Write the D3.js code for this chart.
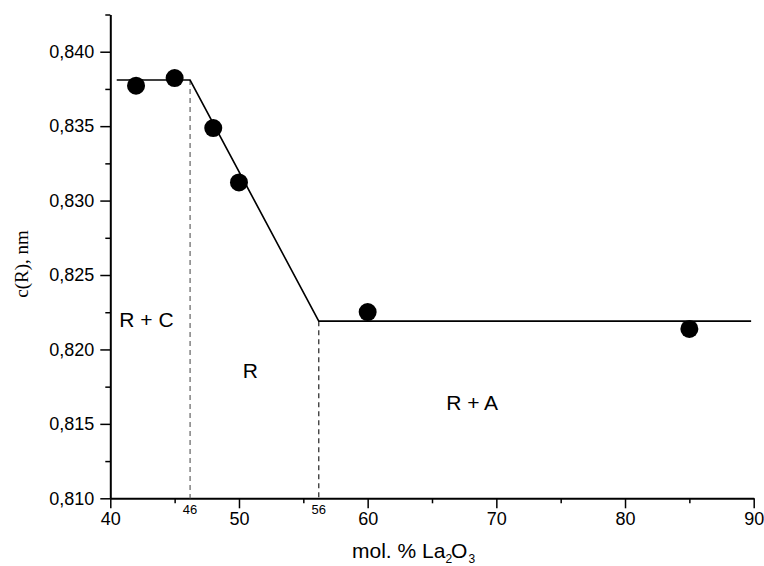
<!DOCTYPE html>
<html>
<head>
<meta charset="utf-8">
<script src="https://cdn.jsdelivr.net/npm/d3@7"></script>
<style>
    body { margin: 0; background: #fff; }
    svg { display: block; }
    .tick text { font-family: "Liberation Sans", Arial, sans-serif; }
</style>
</head>
<body>
<svg id="chart" width="764" height="566"></svg>
<script>
// measured points
const molPct = [42, 45, 48, 50, 60, 85];
const cParam = [0.83772, 0.83823, 0.83487, 0.83122, 0.82251, 0.82138];

// fitted broken line
const fitX = [40.5, 46.2, 56.2, 89.8];
const fitY = [0.8381, 0.8381, 0.8219, 0.8219];

// phase boundaries
const boundaryX = [46.2, 56.2];
const boundaryTop = [0.8381, 0.8219];
const boundaryText = ["46", "56"];
const boundaryColor = ["#6e6e6e", "#333"];

// region labels (data coords of text start / baseline)
const regionText = ["R + C", "R", "R + A"];
const regionX = [40.7, 50.3, 66.1];
const regionY = [0.8215, 0.8181, 0.8159];

const xMajor = [40, 50, 60, 70, 80, 90];
const xMinor = [45, 55, 65, 75, 85];
const yMajor = [0.810, 0.815, 0.820, 0.825, 0.830, 0.835, 0.840];
const yMinor = [0.8125, 0.8175, 0.8225, 0.8275, 0.8325, 0.8375, 0.8425];

const svg = d3.select("#chart");
const FONT = "'Liberation Sans', Arial, sans-serif";

const x = d3.scaleLinear().domain([40, 90]).range([110.3, 753.7]);
const y = d3.scaleLinear().domain([0.810, 0.8425]).range([498.3, 14.5]);

const fmt = v => d3.format(".3f")(v).replace(".", ",");

// minor ticks first
svg.append("g")
    .attr("transform", `translate(0, ${y(0.810)})`)
    .call(d3.axisBottom(x).tickValues(xMinor).tickSize(5).tickFormat(""))
    .call(g => g.select(".domain").remove())
    .selectAll("line").attr("stroke", "#000").attr("stroke-width", 1.5);

svg.append("g")
    .attr("transform", `translate(${x(40)}, 0)`)
    .call(d3.axisLeft(y).tickValues(yMinor).tickSize(5).tickFormat(""))
    .call(g => g.select(".domain").remove())
    .selectAll("line").attr("stroke", "#000").attr("stroke-width", 1.5);

const xAxis = svg.append("g")
    .attr("transform", `translate(0, ${y(0.810)})`)
    .call(d3.axisBottom(x).tickValues(xMajor).tickSize(10).tickSizeOuter(0).tickPadding(4));
xAxis.selectAll("text").attr("font-size", 18).attr("fill", "#000").attr("font-family", FONT);

const yAxis = svg.append("g")
    .attr("transform", `translate(${x(40)}, 0)`)
    .call(d3.axisLeft(y).tickValues(yMajor).tickSize(10).tickSizeOuter(0).tickPadding(6).tickFormat(fmt));
yAxis.selectAll("text").attr("font-size", 18).attr("fill", "#000").attr("font-family", FONT);

[xAxis, yAxis].forEach(a => {
    a.select(".domain").attr("stroke", "#000").attr("stroke-width", 2);
    a.selectAll(".tick line").attr("stroke", "#000").attr("stroke-width", 1.5);
});

// dashed boundaries
boundaryX.forEach((b, i) => {
    svg.append("line")
        .attr("x1", x(b)).attr("x2", x(b))
        .attr("y1", y(boundaryTop[i])).attr("y2", y(0.810))
        .attr("stroke", boundaryColor[i])
        .attr("stroke-width", 1.3)
        .attr("stroke-dasharray", "5,4");
    svg.append("text")
        .attr("x", x(b)).attr("y", y(0.810) + 16)
        .attr("text-anchor", "middle")
        .attr("font-family", FONT).attr("font-size", 13)
        .text(boundaryText[i]);
});

// fitted line
const fit = fitX.map((v, i) => [v, fitY[i]]);
svg.append("path")
    .datum(fit)
    .attr("fill", "none")
    .attr("stroke", "#000")
    .attr("stroke-width", 1.6)
    .attr("d", d3.line().x(d => x(d[0])).y(d => y(d[1])));

// points
svg.append("g").selectAll("circle")
    .data(molPct.map((v, i) => [v, cParam[i]]))
    .join("circle")
    .attr("cx", d => x(d[0]))
    .attr("cy", d => y(d[1]))
    .attr("r", 9)
    .attr("fill", "#000");

// region labels
svg.append("g").selectAll("text")
    .data(regionText)
    .join("text")
    .attr("x", (d, i) => x(regionX[i]))
    .attr("y", (d, i) => y(regionY[i]))
    .attr("font-family", FONT).attr("font-size", 21)
    .text(d => d);

// axis titles
const xt = svg.append("text")
    .attr("x", 352).attr("y", 558)
    .attr("font-family", FONT).attr("font-size", 21);
xt.append("tspan").text("mol. % La");
xt.append("tspan").attr("font-size", 12).attr("dy", 5).text("2");
xt.append("tspan").attr("dy", -5).attr("dx", -1).text("O");
xt.append("tspan").attr("font-size", 12).attr("dy", 5).attr("dx", 1).text("3");

svg.append("text")
    .attr("transform", "translate(28, 264) rotate(-90)")
    .attr("text-anchor", "middle")
    .attr("font-family", "'Liberation Serif', 'Times New Roman', serif")
    .attr("font-size", 19)
    .text("c(R), nm");
</script>
</body>
</html>
